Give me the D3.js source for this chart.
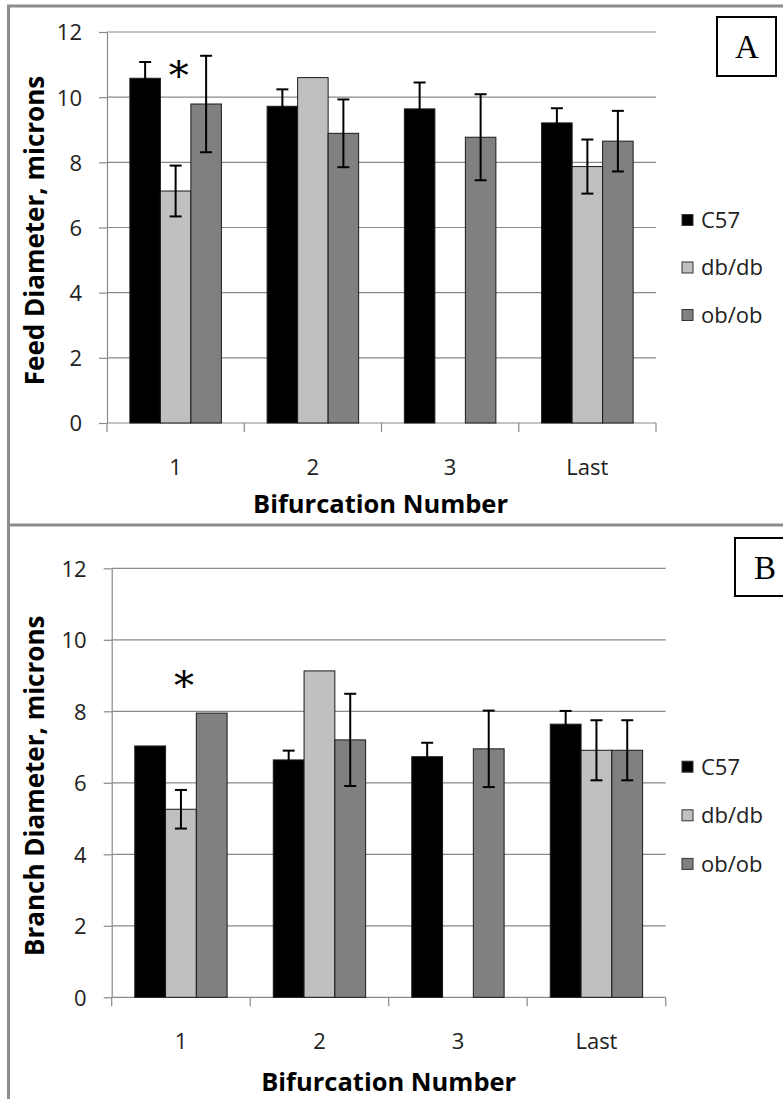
<!DOCTYPE html>
<html><head><meta charset="utf-8">
<script src="https://cdn.jsdelivr.net/npm/d3@7"></script>
<style>body{margin:0;background:#fff}</style>
</head><body><svg id="c" width="783" height="1099" xmlns="http://www.w3.org/2000/svg"></svg>
<script>
const categories = ["1", "2", "3", "Last"];
const seriesNames = ["C57", "db/db", "ob/ob"];
const seriesColors = ["#000000", "#c0c0c0", "#808080"];
const yTicks = [0, 2, 4, 6, 8, 10, 12];

// Panel A: Feed diameter (microns)
const feedC57 = [10.58, 9.72, 9.64, 9.21];
const feedC57Err = [0.50, 0.52, 0.81, 0.45];
const feedDb = [7.12, 10.60, null, 7.87];
const feedDbErr = [0.78, null, null, 0.83];
const feedOb = [9.79, 8.89, 8.77, 8.65];
const feedObErr = [1.48, 1.04, 1.32, 0.93];
const feedStar = {category: "1", series: "db/db", value: 10.85};

// Panel B: Branch diameter (microns)
const branchC57 = [7.03, 6.64, 6.73, 7.64];
const branchC57Err = [null, 0.26, 0.39, 0.37];
const branchDb = [5.26, 9.13, null, 6.91];
const branchDbErr = [0.54, null, null, 0.84];
const branchOb = [7.95, 7.20, 6.95, 6.91];
const branchObErr = [null, 1.29, 1.07, 0.84];
const branchStar = {category: "1", series: "db/db", value: 8.89};

const svg = d3.select("#c");
const FONT = "'Open Sans', 'DejaVu Sans', sans-serif";
const GRID = "#8a8a8a";

// panel frames
const frame = svg.append("g").attr("stroke", "#8c8c8c").attr("stroke-width", 3).attr("fill", "none");
frame.append("line").attr("x1", 8.5).attr("x2", 8.5).attr("y1", 5).attr("y2", 1099);
frame.append("line").attr("x1", 7).attr("x2", 783).attr("y1", 6).attr("y2", 6);
frame.append("line").attr("x1", 7).attr("x2", 783).attr("y1", 525).attr("y2", 525);

function drawPanel(p) {
  const g = svg.append("g");
  const y = d3.scaleLinear().domain([0, 12]).range([p.y0, p.y1]);
  const x = d3.scaleBand().domain(categories).range([p.x0, p.x1]).padding(0);
  const xs = d3.scaleBand().domain(seriesNames).range([0, x.bandwidth()]).paddingInner(0).paddingOuter(0.75);

  // gridlines
  g.append("g").selectAll("line").data(yTicks.filter(t => t > 0)).join("line")
    .attr("x1", p.x0).attr("x2", p.x1)
    .attr("y1", d => y(d)).attr("y2", d => y(d))
    .attr("stroke", GRID).attr("stroke-width", 1.2);

  // y axis
  const ya = g.append("g").attr("transform", `translate(${p.x0},0)`)
    .call(d3.axisLeft(y).tickValues(yTicks).tickSize(8).tickSizeOuter(0).tickPadding(17).tickFormat(d3.format("d")));
  ya.select(".domain").attr("stroke", GRID).attr("stroke-width", 1.2);
  ya.selectAll(".tick line").attr("stroke", GRID).attr("stroke-width", 1.2);
  ya.selectAll(".tick text").attr("font-family", FONT).attr("font-size", 22).attr("fill", "#222").attr("dy", "0.36em");

  // x axis
  g.append("line").attr("x1", p.x0).attr("x2", p.x1).attr("y1", y(0)).attr("y2", y(0))
    .attr("stroke", GRID).attr("stroke-width", 1.2);
  const bounds = categories.map(c => x(c)).concat([p.x1]);
  g.append("g").selectAll("line").data(bounds).join("line")
    .attr("x1", d => d).attr("x2", d => d).attr("y1", y(0)).attr("y2", y(0) + 9)
    .attr("stroke", GRID).attr("stroke-width", 1.2);
  g.append("g").selectAll("text").data(categories).join("text")
    .attr("x", d => x(d) + x.bandwidth() / 2).attr("y", y(0) + p.tickLabelDy)
    .attr("text-anchor", "middle").attr("font-family", FONT).attr("font-size", 22).attr("fill", "#222")
    .text(d => d);

  // bars
  const rows = [];
  p.series.forEach((s, si) => {
    categories.forEach((c, ci) => {
      if (s.values[ci] != null) rows.push({c, s: seriesNames[si], v: s.values[ci], e: s.errs[ci], color: seriesColors[si]});
    });
  });
  g.append("g").selectAll("rect").data(rows).join("rect")
    .attr("x", d => x(d.c) + xs(d.s)).attr("width", xs.bandwidth())
    .attr("y", d => y(d.v)).attr("height", d => y(0) - y(d.v))
    .attr("fill", d => d.color).attr("stroke", "#1a1a1a").attr("stroke-width", 1);

  // error bars
  const eb = g.append("g").attr("stroke", "#000").attr("stroke-width", 2).attr("fill", "none");
  rows.filter(d => d.e != null).forEach(d => {
    const cx = x(d.c) + xs(d.s) + xs.bandwidth() / 2;
    eb.append("line").attr("x1", cx).attr("x2", cx).attr("y1", y(d.v + d.e)).attr("y2", y(d.v - d.e));
    eb.append("line").attr("x1", cx - 6).attr("x2", cx + 6).attr("y1", y(d.v + d.e)).attr("y2", y(d.v + d.e));
    eb.append("line").attr("x1", cx - 6).attr("x2", cx + 6).attr("y1", y(d.v - d.e)).attr("y2", y(d.v - d.e));
  });

  // significance star
  g.append("text").attr("x", x(p.star.category) + xs(p.star.series) + xs.bandwidth() / 2 + 3)
    .attr("y", y(p.star.value) + 20).attr("text-anchor", "middle")
    .attr("font-family", "'DejaVu Serif', 'Liberation Serif', serif").attr("font-weight", 300).attr("font-size", 40).attr("fill", "#000")
    .text("*");

  // axis titles
  g.append("text").attr("x", (p.x0 + p.x1) / 2 + p.titleShift).attr("y", y(0) + p.titleDy)
    .attr("text-anchor", "middle").attr("font-family", FONT).attr("font-weight", "bold").attr("font-size", 25.5).attr("fill", "#000")
    .text("Bifurcation Number");
  g.append("text").attr("transform", `translate(${p.yTitleX},${(p.y0 + p.y1) / 2 + 3}) rotate(-90)`)
    .attr("text-anchor", "middle").attr("font-family", FONT).attr("font-weight", "bold").attr("font-size", 26).attr("fill", "#000")
    .text(p.yTitle);

  // legend
  const lg = g.append("g");
  seriesNames.forEach((s, i) => {
    const ly = p.legendY + i * p.legendStep;
    lg.append("rect").attr("x", 682).attr("y", ly - 5.5).attr("width", 11).attr("height", 11)
      .attr("fill", seriesColors[i]).attr("stroke", "#333").attr("stroke-width", 1);
    lg.append("text").attr("x", 701).attr("y", ly).attr("dy", "0.36em")
      .attr("font-family", FONT).attr("font-size", 22).attr("fill", "#222").text(s);
  });

  // panel letter box
  g.append("rect").attr("x", p.box[0]).attr("y", p.box[1]).attr("width", p.box[2]).attr("height", p.box[3])
    .attr("fill", "#fff").attr("stroke", "#000").attr("stroke-width", 2);
  g.append("text").attr("x", p.letterX).attr("y", p.box[1] + p.box[3] / 2).attr("dy", "0.35em")
    .attr("text-anchor", "middle").attr("font-family", "'Liberation Serif', 'DejaVu Serif', serif")
    .attr("font-size", 33).attr("fill", "#000").text(p.letter);
}

drawPanel({
  x0: 107, x1: 656, y0: 423, y1: 32,
  series: [{values: feedC57, errs: feedC57Err}, {values: feedDb, errs: feedDbErr}, {values: feedOb, errs: feedObErr}],
  star: feedStar, tickLabelDy: 52, titleDy: 90, titleShift: -1, yTitleX: 44, yTitle: "Feed Diameter, microns",
  legendY: 220, legendStep: 47.5, box: [717, 17, 59, 59], letterX: 747, letter: "A"
});
drawPanel({
  x0: 111.7, x1: 665.7, y0: 997.3, y1: 568.3,
  series: [{values: branchC57, errs: branchC57Err}, {values: branchDb, errs: branchDbErr}, {values: branchOb, errs: branchObErr}],
  star: branchStar, tickLabelDy: 52, titleDy: 94, titleShift: 0, yTitleX: 44, yTitle: "Branch Diameter, microns",
  legendY: 766.7, legendStep: 48.6, box: [735, 538, 60, 58], letterX: 765, letter: "B"
});
</script>
</body></html>
